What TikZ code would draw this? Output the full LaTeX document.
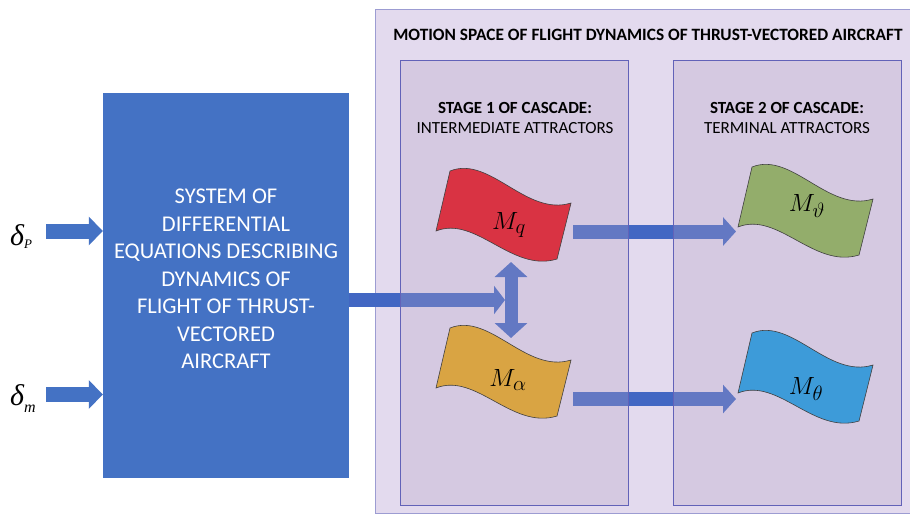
\documentclass[tikz,border=0pt]{standalone}
\usepackage{fontspec}
\setmainfont{Carlito}
\newfontfamily\greekserif{Liberation Serif}
\usetikzlibrary{arrows.meta}
\definecolor{sysblue}{HTML}{4472C4}
\definecolor{arrowblue}{HTML}{4267C3}
\definecolor{outerfill}{HTML}{E3DAEE}
\definecolor{outerline}{HTML}{9C9CD2}
\definecolor{stagefill}{RGB}{182,162,196}
\definecolor{stageline}{HTML}{6262B8}
\definecolor{flagred}{HTML}{D93343}
\definecolor{flagyellow}{HTML}{D9A443}
\definecolor{flaggreen}{HTML}{93AD6B}
\definecolor{flagblue}{HTML}{3D9BD9}
\begin{document}
\begin{tikzpicture}[x=1pt,y=-1pt,
  outerbox/.style={draw=outerline, fill=outerfill, line width=0.8pt, minimum width=540pt, minimum height=504pt, inner sep=0pt},
  stagebox/.style={draw=stageline, line width=0.7pt, fill=stagefill, fill opacity=0.29, draw opacity=1, minimum width=228pt, minimum height=445pt, inner sep=0pt},
  sysbox/.style={fill=sysblue, minimum width=246pt, minimum height=385pt, inner sep=0pt},
  systext/.style={text=white, align=center, font=\fontsize{22.5}{27.5}\selectfont},
  inarrow/.style={draw=sysblue, line width=15pt, -{Triangle[length=14pt,width=28pt]}},
  blockarrow/.style={draw=arrowblue, line width=14pt, -{Triangle[length=13pt,width=28pt]}},
  dblarrow/.style={draw=arrowblue, line width=13pt, {Triangle[length=15pt,width=32pt]}-{Triangle[length=15pt,width=32pt]}},
  titletext/.style={font=\fontsize{17.3}{20}\selectfont\bfseries},
  stagetext/.style={align=center, font=\fontsize{17}{20}\selectfont},
  mathlabel/.style={font=\fontsize{28}{28}\selectfont, inner sep=0pt},
  deltalabel/.style={font=\fontsize{30}{30}\selectfont\greekserif\itshape, inner sep=0pt, anchor=base west},
  flag/.pic={\draw[fill=#1, line width=0.6pt, draw=black!75]
     (0,0) .. controls (40,-16) and (76,46) .. (121,32)
     -- (107,88) .. controls (62,102) and (26,44) .. (-14,60) -- cycle;}
]
\useasboundingbox (0,0) rectangle (910,515);
\fill[white] (0,0) rectangle (910,515);

% outer motion space
\node[outerbox] (outer) at (645,261) {};
% system box
\node[sysbox] (sys) at (226,285.5) {};
\node[systext] (systxt) at (226,279) {SYSTEM OF\\DIFFERENTIAL\\EQUATIONS DESCRIBING\\DYNAMICS OF\\FLIGHT OF THRUST-\\VECTORED\\AIRCRAFT};

% inputs
\node[deltalabel] (dP) at (10,245) {δ\raisebox{-3pt}{\fontsize{13}{13}\selectfont P}};
\node[deltalabel] (dm) at (10,405) {δ\raisebox{-7pt}{\fontsize{16}{16}\selectfont m}};
\coordinate (dPs) at (46,231);
\coordinate (dms) at (46,394.5);
\draw[inarrow] (dPs) -- (sys.west |- dPs);
\draw[inarrow] (dms) -- (sys.west |- dms);

% junction and coordinates
\coordinate (join) at (505,300);
\coordinate (qbot) at (511,262);
\coordinate (atop) at (511,338);
\coordinate (qout) at (573,231.5);
\coordinate (vin) at (736,231.5);
\coordinate (aout) at (573,399);
\coordinate (tin) at (736,399);

\draw[blockarrow, -{Triangle[length=11pt,width=28pt]}] (sys.east |- join) -- (join);
\draw[blockarrow] (qout) -- (vin);
\draw[blockarrow] (aout) -- (tin);
\draw[dblarrow] (qbot) -- (atop);

% stage boxes (translucent over arrows)
\node[stagebox] (st1) at (514,282.5) {};
\node[stagebox] (st2) at (787,282.5) {};

% title texts
\node[titletext] (title) at (648,35) {MOTION SPACE OF FLIGHT DYNAMICS OF THRUST-VECTORED AIRCRAFT};
\node[stagetext] (s1txt) at (515,118) {\textbf{STAGE 1 OF CASCADE:}\\INTERMEDIATE ATTRACTORS};
\node[stagetext] (s2txt) at (787,118) {\textbf{STAGE 2 OF CASCADE:}\\TERMINAL ATTRACTORS};

% flags
\pic at (450,171) {flag=flagred};
\pic at (450,328) {flag=flagyellow};
\pic at (752,167) {flag=flaggreen};
\pic at (752,333) {flag=flagblue};
\node[mathlabel] (mq) at (509,225) {$M_q$};
\node[mathlabel] (ma) at (508,380) {$M_\alpha$};
\node[mathlabel] (mv) at (807,206) {$M_\vartheta$};
\node[mathlabel] (mt) at (806,389) {$M_\theta$};
\end{tikzpicture}
\end{document}
